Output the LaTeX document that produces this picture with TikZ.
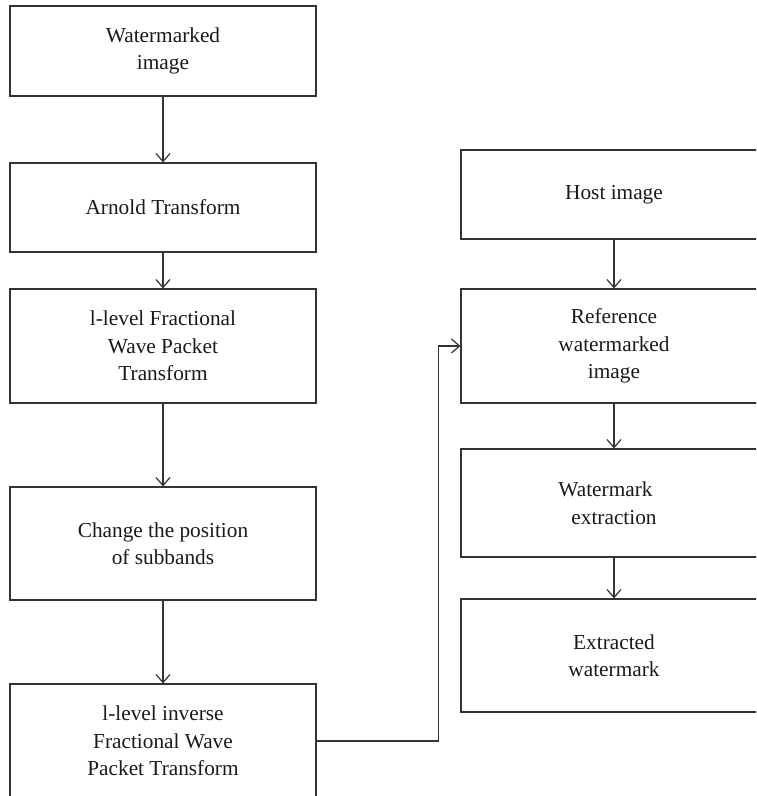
\documentclass[tikz,border=0pt]{standalone}
\usepackage{fontspec}
\setmainfont{Liberation Serif}
\usetikzlibrary{arrows.meta}
\begin{document}
\begin{tikzpicture}[x=1pt,y=-1pt,
  box/.style={draw=black!80, line width=1.2pt, rectangle, minimum width=306pt,
    align=center, inner sep=0pt, font=\fontsize{21.3}{27.5}\selectfont, text=black!90},
  conn/.style={draw=black!80, line width=1.2pt,
    -{Straight Barb[length=8pt,width=14pt,line width=1.2pt]}}]
\useasboundingbox (0,0) rectangle (756,796);
\clip (0,0) rectangle (756,796);
\node[box, minimum height=90pt]  (b1) at (163,51)    {Watermarked\\image};
\node[box, minimum height=89pt]  (b2) at (163,207.5) {Arnold Transform};
\node[box, minimum height=114pt] (b3) at (163,346)   {l-level Fractional\\Wave Packet\\Transform};
\node[box, minimum height=113pt] (b4) at (163,543.5) {Change the position\\of subbands};
\node[box, minimum height=114pt] (b5) at (163,741)   {l-level inverse\\Fractional Wave\\Packet Transform};
\node[box, minimum height=89pt]  (r1) at (614,194.5) {Host image};
\node[box, minimum height=114pt] (r2) at (614,346)   {Reference\\watermarked\\image};
\node[box, minimum height=108pt] (r3) at (614,503)   {Watermark\hspace*{0.8em}\\extraction};
\node[box, minimum height=113pt] (r4) at (614,655.5) {Extracted\\watermark};
\coordinate (turn) at (438.7,0);
\draw[conn] (b1) -- (b2);
\draw[conn] (b2) -- (b3);
\draw[conn] (b3) -- (b4);
\draw[conn] (b4) -- (b5);
\draw[conn] (r1) -- (r2);
\draw[conn] (r2) -- (r3);
\draw[conn] (r3) -- (r4);
\draw[conn] (b5.east) -- (b5.east -| turn) |- (r2.west);
\end{tikzpicture}
\end{document}
